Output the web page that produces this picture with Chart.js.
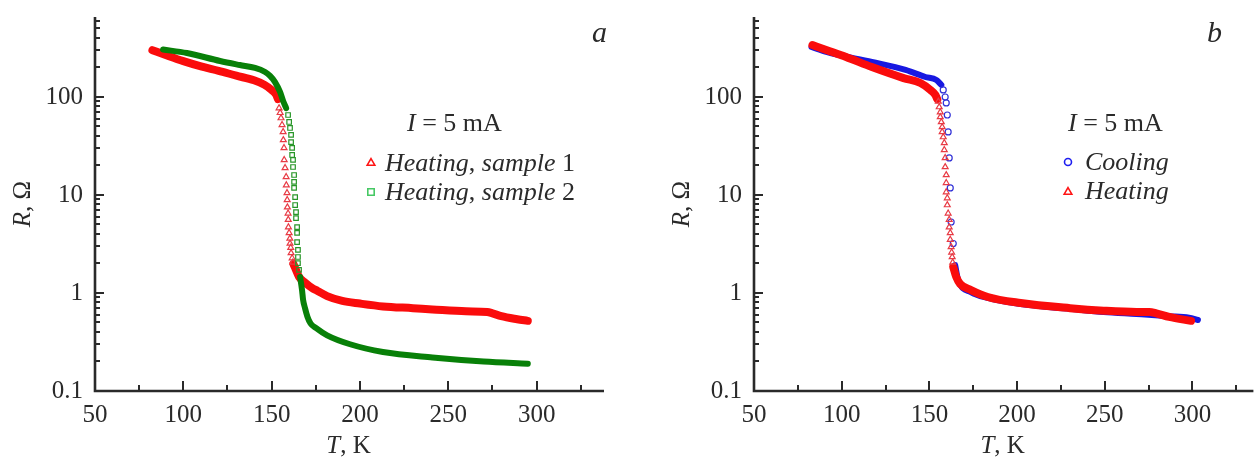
<!DOCTYPE html>
<html lang="en">
<head>
<meta charset="utf-8" />
<title>R(T), panels a and b</title>
<script src="https://cdn.jsdelivr.net/npm/chart.js"></script>
<style>
  html, body { margin: 0; padding: 0; background: #fff; overflow: hidden; }
  canvas { position: absolute; top: 0; }
  #chartA { left: 0; }
  #chartB { left: 628px; }
</style>
</head>
<body>
<canvas id="chartA" width="628" height="457"></canvas>
<canvas id="chartB" width="628" height="457"></canvas>
<script>
// ---- values: [T in K, R in Ohm] ----
const xTicks = [50, 100, 150, 200, 250, 300];
const yTicks = [0.1, 1, 10, 100];

// panel a, heating, sample 1
const s1Top = [[82.5, 300], [90, 268], [100, 232], [110, 205], [120, 185], [130, 165], [140, 148],
  [146, 133], [150, 118], [152.5, 106], [153.6, 95]];
const s1Drop = [[154.2, 77], [154.8, 69], [155.3, 61], [155.9, 52], [156.5, 44], [156.6, 36.4], [157.0, 30.2],
  [157.1, 22.8], [157.6, 18.9], [158.2, 15.3], [158.3, 12.6], [158.7, 10.5], [158.8, 8.9], [158.9, 7.5],
  [159.3, 6.5], [159.4, 5.6], [159.5, 4.7], [159.9, 4.1], [160.3, 3.6], [160.4, 3.2], [160.8, 2.9],
  [161.0, 2.56], [161.6, 2.27], [162.0, 2.05]];
const s1Tail = [[162.3, 1.98], [163.3, 1.80], [165.5, 1.46], [169, 1.27], [173, 1.12], [176, 1.05],
  [181.4, 0.93], [190, 0.83], [200, 0.78], [213, 0.73], [230, 0.70], [241, 0.68], [260, 0.65],
  [272, 0.64], [275, 0.62], [280, 0.58], [289, 0.54], [295, 0.52]];

// panel a, heating, sample 2
const s2Top = [[88.5, 305], [102, 281], [120.8, 233], [132, 212], [140.6, 198], [146.3, 180], [149.1, 164],
  [151.9, 142], [154.8, 112], [156.5, 91], [158.2, 77]];
const s2Drop = [[159.3, 65.5], [159.9, 55.6], [160.4, 48.3], [161.0, 41], [161.0, 34.7], [161.6, 30.2],
  [161.6, 25.6], [162.1, 22.8], [162.1, 19.3], [162.7, 16], [162.7, 13.6], [162.7, 11.8], [163.3, 9.5],
  [163.3, 7.9], [163.8, 6.7], [163.8, 5.8], [164.4, 4.7], [164.4, 4.1], [164.4, 3.3], [164.9, 2.75],
  [164.9, 2.33], [164.9, 2.02], [165.5, 1.72]];
const s2Tail = [[166.1, 1.46], [167.2, 1.07], [167.8, 0.85], [168.9, 0.70], [170.3, 0.57], [172, 0.49],
  [175, 0.44], [181.4, 0.37], [194.4, 0.30], [213, 0.25], [241, 0.22], [270, 0.20], [295, 0.19]];

// panel b, cooling
const coolTop = [[82.8, 324], [91.2, 288], [117.2, 228], [136.4, 189], [147.7, 160], [154, 149], [156.8, 133]];
const coolDrop = [[157.9, 118], [159, 100], [159.6, 87], [160.2, 65.5], [160.7, 44], [161.3, 23.9],
  [161.9, 11.8], [162.4, 5.3], [163.6, 3.2]];
const coolTail = [[164.7, 1.93], [166.4, 1.36], [173.7, 1.02], [183.3, 0.89], [202, 0.77], [230.2, 0.69],
  [249.4, 0.64], [268.1, 0.61], [286.7, 0.58], [298, 0.56], [303.1, 0.53]];

// panel b, heating
const heatTop = [[83.3, 339], [91.2, 302], [102.5, 256], [117.2, 202], [135.3, 156], [144.9, 139],
  [150.6, 118], [153.4, 105], [154.5, 95]];
const heatDrop = [[155.1, 90], [155.6, 79], [156.2, 70], [156.2, 62.5], [156.8, 55.6], [157.3, 49.4],
  [157.3, 44], [157.9, 39], [158.5, 34], [158.5, 28.8], [159.0, 23.9], [159.0, 19.3], [159.6, 16],
  [159.6, 13.3], [159.6, 10.7], [160.2, 9.3], [160.2, 7.9], [160.7, 6.5], [161.3, 5.6], [161.3, 4.7],
  [161.9, 4.1], [161.9, 3.5], [162.4, 2.95], [162.7, 2.6], [163, 2.33], [163.3, 2.05]];
const heatTail = [[163.6, 1.84], [165.3, 1.46], [167.5, 1.24], [173.7, 1.07], [183.3, 0.91], [202, 0.79],
  [230.2, 0.70], [249.4, 0.66], [268.1, 0.64], [275.4, 0.64], [279.4, 0.62], [286.7, 0.57], [299.2, 0.52]];

// ---- styling ----
const ink = '#2a2a2a';
const serif = '"Liberation Serif", "Times New Roman", serif';
const RED = 'rgb(250,12,12)', RED_PT = 'rgb(232,58,68)';
const GREEN = 'rgb(8,128,8)', GREEN_PT = 'rgb(40,150,40)';
const BLUE = 'rgb(24,24,225)', BLUE_PT = 'rgb(50,50,215)';

function pts(a) { return a.map(p => ({ x: p[0], y: p[1] })); }

// dense runs of markers merge into a thick band
function band(a, color, w) {
  return { data: pts(a), showLine: true, borderColor: color, borderWidth: w, pointRadius: 0,
    pointHoverRadius: 0, cubicInterpolationMode: 'monotone', borderCapStyle: 'round', borderJoinStyle: 'round' };
}
function marks(a, style, color, r) {
  return { data: pts(a), showLine: false, pointStyle: style, pointRadius: r, pointHoverRadius: r,
    borderColor: color, backgroundColor: 'rgba(0,0,0,0)', pointBorderWidth: 1.2 };
}

function isTick(list, v) { return list.some(t => Math.abs(t - v) < t * 1e-6); }

function rich(ctx, parts, x, y, size, align) {
  const fonts = parts.map(p => (p[1] ? 'italic ' : '') + size + 'px ' + serif);
  let w = 0;
  parts.forEach((p, i) => { ctx.font = fonts[i]; w += ctx.measureText(p[0]).width; });
  let cx = align === 'center' ? x - w / 2 : x;
  parts.forEach((p, i) => { ctx.font = fonts[i]; ctx.fillText(p[0], cx, y); cx += ctx.measureText(p[0]).width; });
}

function marker(ctx, style, x, y, color) {
  ctx.save();
  ctx.strokeStyle = color;
  ctx.lineWidth = 1.6;
  ctx.beginPath();
  if (style === 'triangle') {
    const r = 4.4;
    ctx.moveTo(x, y - r); ctx.lineTo(x + r * 0.866, y + r / 2); ctx.lineTo(x - r * 0.866, y + r / 2); ctx.closePath();
  } else if (style === 'rect') {
    ctx.rect(x - 3.2, y - 3.2, 6.4, 6.4);
  } else {
    ctx.arc(x, y, 3.5, 0, Math.PI * 2);
  }
  ctx.stroke();
  ctx.restore();
}

// axes with inward ticks, titles, legend and panel letter
function frame(panel) {
  return {
    id: 'frame',
    afterDraw(chart) {
      const { ctx, chartArea: a, scales: { x, y } } = chart;
      ctx.save();
      ctx.strokeStyle = ink;
      ctx.lineWidth = 2.6;
      ctx.beginPath();
      ctx.moveTo(a.left, a.top); ctx.lineTo(a.left, a.bottom); ctx.lineTo(a.right + 2, a.bottom);
      ctx.stroke();

      ctx.lineWidth = 2;
      ctx.beginPath();
      x.ticks.forEach(t => {
        if (t.value <= x.min || t.value > x.max) return;
        const px = Math.round(x.getPixelForValue(t.value));
        const len = isTick(xTicks, t.value) ? 10 : 6;
        ctx.moveTo(px, a.bottom); ctx.lineTo(px, a.bottom - len);
      });
      y.ticks.forEach(t => {
        const v = t.value;
        if (v <= y.min * 1.0001 || v > y.max) return;
        const m = v / Math.pow(10, Math.floor(Math.log10(v) + 1e-9));
        if (Math.abs(m - Math.round(m)) > 1e-6) return;
        const py = Math.round(y.getPixelForValue(v));
        const len = isTick(yTicks, v) ? 9 : 5;
        ctx.moveTo(a.left, py); ctx.lineTo(a.left + len, py);
      });
      ctx.stroke();

      ctx.fillStyle = ink;
      ctx.textAlign = 'left';
      ctx.textBaseline = 'alphabetic';
      // axis titles
      rich(ctx, [['T', 1], [', K', 0]], (a.left + a.right) / 2, 453, 25, 'center');
      ctx.save();
      ctx.translate(a.left - 65, (a.top + a.bottom) / 2);
      ctx.rotate(-Math.PI / 2);
      rich(ctx, [['R', 1], [', Ω', 0]], 0, 0, 25, 'center');
      ctx.restore();

      // current note, legend, panel letter
      rich(ctx, [['I', 1], [' = 5 mA', 0]], panel.note[0], panel.note[1], 26);
      panel.legend.forEach(it => {
        marker(ctx, it.style, it.mx, it.my, it.color);
        ctx.fillStyle = ink;
        rich(ctx, it.text, it.tx, it.ty, 26);
      });
      rich(ctx, [[panel.letter[0], 1]], panel.letter[1], panel.letter[2], 30);
      ctx.restore();
    }
  };
}

function build(panel) {
  const tickFont = { family: serif, size: 25 };
  return new Chart(document.getElementById(panel.id), {
    type: 'scatter',
    data: { datasets: panel.datasets },
    options: {
      responsive: false,
      animation: false,
      events: [],
      layout: { padding: { top: 17, right: panel.padRight, left: 0, bottom: 0 } },
      plugins: { legend: { display: false }, tooltip: { enabled: false } },
      scales: {
        x: {
          type: 'linear', min: 50, max: panel.xMax,
          afterFit: s => { s.height = 66; s.paddingLeft = 0; s.paddingRight = 0; },
          grid: { display: false, drawTicks: false },
          border: { display: false },
          ticks: {
            stepSize: 25, includeBounds: false, autoSkip: false, maxRotation: 0, padding: 9,
            color: ink, font: tickFont,
            callback: v => isTick(xTicks, v) ? String(v) : ''
          }
        },
        y: {
          type: 'logarithmic', min: 0.1, max: 655,
          afterFit: s => { s.width = panel.yAxisW; s.paddingTop = 0; s.paddingBottom = 0; },
          grid: { display: false, drawTicks: false },
          border: { display: false },
          ticks: {
            autoSkip: false, padding: 12, color: ink, font: tickFont,
            callback: v => isTick(yTicks, v) ? String(v) : ''
          }
        }
      }
    },
    plugins: [frame(panel)]
  });
}

const panelA = {
  id: 'chartA', xMax: 337, yAxisW: 95, padRight: 26,
  letter: ['a', 592, 42],
  note: [407, 131],
  legend: [
    { style: 'triangle', color: 'rgb(255,20,20)', mx: 371, my: 163, tx: 385, ty: 171,
      text: [['Heating', 1], [', ', 0], ['sample', 1], [' 1', 0]] },
    { style: 'rect', color: 'rgb(70,200,100)', mx: 371, my: 192, tx: 385, ty: 200,
      text: [['Heating', 1], [', ', 0], ['sample', 1], [' 2', 0]] }
  ],
  datasets: [
    marks(s2Drop, 'rect', GREEN_PT, 3.2), band(s2Top, GREEN, 6), band(s2Tail, GREEN, 6),
    marks(s1Drop, 'triangle', RED_PT, 3.4), band(s1Top, RED, 8), band(s1Tail, RED, 8)
  ]
};

const panelB = {
  id: 'chartB', xMax: 333.6, yAxisW: 126, padRight: 0,
  letter: ['b', 579, 42],
  note: [440, 131],
  legend: [
    { style: 'circle', color: 'rgb(30,30,240)', mx: 440, my: 162, tx: 457, ty: 170,
      text: [['Cooling', 1]] },
    { style: 'triangle', color: 'rgb(255,20,20)', mx: 440, my: 192, tx: 457, ty: 199,
      text: [['Heating', 1]] }
  ],
  datasets: [
    marks(heatDrop, 'triangle', RED_PT, 3.4), band(heatTop, RED, 8), band(heatTail, RED, 8),
    marks(coolDrop, 'circle', BLUE_PT, 3), band(coolTop, BLUE, 6), band(coolTail, BLUE, 6)
  ]
};

build(panelA);
build(panelB);
</script>
</body>
</html>
